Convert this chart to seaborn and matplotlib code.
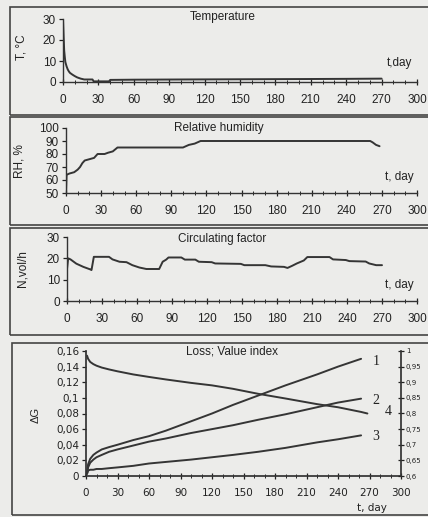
import matplotlib
matplotlib.use("Agg")
import matplotlib.pyplot as plt
import matplotlib.ticker as mticker
from matplotlib.patches import Rectangle
import pandas as pd
import seaborn as sns

# temperature
t_temp = [0, 0.5, 1, 1.5, 2, 3, 4, 5, 6, 8, 10, 12, 15, 18, 25, 26, 39, 40, 60, 100, 150, 200, 240, 270]
temp = [30, 22, 15, 12, 9.5, 7.5, 6, 5, 4.3, 3.5, 2.8, 2.2, 1.6, 1.2, 1.2, 0.3, 0.3, 1.0, 1.1, 1.2, 1.3, 1.4, 1.5, 1.6]

# relative humidity
t_rh = [0, 0.5, 3, 7, 10, 12, 14, 16, 20, 24, 27, 33, 36, 40, 44, 100, 105, 110, 115, 260, 262, 265, 268]
rh = [50, 64, 65, 66, 68, 70, 73, 75, 76, 77, 80, 80, 81, 82, 85, 85, 87, 88, 90, 90, 89, 87, 86]

# circulating factor
t_n = [0, 1, 3, 8, 14, 20, 21, 23, 36, 39, 45, 51, 56, 62, 68, 79, 82, 85, 87, 98,
       101, 110, 113, 124, 127, 149, 152, 170, 175, 186, 189, 193, 197, 203, 206, 225,
       228, 239, 242, 256, 259, 265, 270]
n_circ = [15, 20, 19.5, 17.5, 16, 14.8, 14.5, 20.7, 20.7, 19.5, 18.4, 18.2, 16.8, 15.7, 15, 15,
          18.4, 19.4, 20.4, 20.4, 19.4, 19.4, 18.4, 18.2, 17.6, 17.4, 16.8, 16.8, 16.2, 16,
          15.5, 16.5, 17.6, 19, 20.6, 20.6, 19.5, 19.2, 18.7, 18.5, 17.6, 16.8, 16.8]

# loss curves 1-3 (left axis) and value index 4 (right axis)
t_loss = [1, 2, 4, 7, 10, 15, 22, 30, 45, 60, 76, 100, 120, 140, 164, 190, 220, 240, 262]
loss1 = [0.003, 0.015, 0.022, 0.027, 0.030, 0.034, 0.037, 0.040, 0.046, 0.051, 0.058, 0.070,
         0.080, 0.091, 0.103, 0.116, 0.130, 0.140, 0.150]
loss2 = [0.003, 0.011, 0.017, 0.021, 0.024, 0.027, 0.031, 0.034, 0.039, 0.044, 0.048, 0.055,
         0.060, 0.065, 0.072, 0.079, 0.088, 0.094, 0.099]
loss3 = [0.003, 0.007, 0.008, 0.008, 0.009, 0.009, 0.010, 0.011, 0.013, 0.016, 0.018, 0.021,
         0.024, 0.027, 0.031, 0.036, 0.043, 0.047, 0.052]
t_vi = [1, 2, 4, 7, 10, 15, 22, 30, 45, 60, 76, 100, 120, 140, 164, 190, 220, 240, 262, 268]
value_idx = [0.985, 0.975, 0.965, 0.958, 0.953, 0.947, 0.941, 0.935, 0.925, 0.917, 0.909, 0.898,
             0.89, 0.879, 0.863, 0.848, 0.83, 0.82, 0.805, 0.80]

W, H = 428, 517
LC = "#353535"
BG = "#ececea"

sns.set_theme(style="ticks")
plt.rcParams["font.family"] = ["Liberation Sans", "DejaVu Sans"]

fig = plt.figure(figsize=(W / 100, H / 100), dpi=100, facecolor=BG)


def ax_px(x0, x1, ytop, ybot):
    # axes rectangle from pixel coords
    return fig.add_axes([x0 / W, 1 - ybot / H, (x1 - x0) / W, (ybot - ytop) / H])


def box(y0, y1, x0=10):
    fig.patches.append(Rectangle((x0 / W, 1 - y1 / H), (W + 5 - x0) / W, (y1 - y0) / H,
                                 transform=fig.transFigure, fill=False, lw=1.2,
                                 edgecolor="#444444"))


def style_top(ax, ylim, yticks, title, tx, ty, dlab, dy, ylabel, ylx, lly):
    ax.set_facecolor("none")
    ax.set_xlim(0, 300)
    ax.set_ylim(*ylim)
    ax.set_xticks(range(0, 301, 30))
    ax.xaxis.set_minor_locator(mticker.MultipleLocator(10))
    ax.set_yticks(yticks)
    ax.tick_params(axis="x", direction="inout", length=5, width=0.9, labelsize=8.5, pad=6, colors="#222")
    ax.tick_params(axis="x", which="minor", direction="inout", length=3, width=0.7)
    ax.tick_params(axis="y", direction="out", length=3, width=0.9, labelsize=8.5, pad=2, colors="#222")
    for s in ["left", "bottom"]:
        ax.spines[s].set_linewidth(1.0)
        ax.spines[s].set_color("#333")
    sns.despine(ax=ax)
    ax.set_xlabel("")
    ax.set_ylabel("")
    ax.text(tx, ty, title, transform=ax.transAxes, ha="center", va="center", fontsize=8.5, color="#222")
    ax.text(0.95, dy, dlab, transform=ax.transAxes, ha="center", va="center", fontsize=8.5, color="#222")
    fig.text(ylx / W, 1 - lly / H, ylabel, rotation=90, ha="center", va="center", fontsize=8.5, color="#222")


# panel frames
box(7, 115)
box(117, 225)
box(228, 335)
box(343, 515, x0=12)

# Temperature
ax1 = ax_px(63, 417, 19, 82)
sns.lineplot(x=t_temp, y=temp, ax=ax1, color=LC, lw=1.4)
style_top(ax1, (0, 30), [0, 10, 20, 30], "Temperature", 0.452, 1.03, "t,day", 0.30, "T, °C", 21, 47)

# Relative humidity
ax2 = ax_px(66, 417, 128, 193)
sns.lineplot(x=t_rh, y=rh, ax=ax2, color=LC, lw=1.4)
style_top(ax2, (50, 100), list(range(50, 101, 10)), "Relative humidity", 0.436, 1.0, "t, day", 0.25, "RH, %", 20, 161)

# Circulating factor
ax3 = ax_px(67, 417, 237, 301)
sns.lineplot(x=t_n, y=n_circ, ax=ax3, color=LC, lw=1.4)
style_top(ax3, (0, 30), [0, 10, 20, 30], "Circulating factor", 0.443, 0.97, "t, day", 0.25, "N,vol/h", 22, 269)

# Loss; Value index
ax4 = ax_px(86, 401, 351, 476)
ax4.set_facecolor("none")
df_loss = pd.DataFrame({"t": t_loss * 3,
                        "loss": loss1 + loss2 + loss3,
                        "curve": ["1"] * len(t_loss) + ["2"] * len(t_loss) + ["3"] * len(t_loss)})
sns.lineplot(data=df_loss, x="t", y="loss", hue="curve", palette=[LC, LC, LC], ax=ax4,
             lw=1.4, legend=False)
ax4.set_xlim(0, 300)
ax4.set_ylim(0, 0.16)
ax4.set_xticks(range(0, 301, 30))
ax4.xaxis.set_minor_locator(mticker.MultipleLocator(10))
ax4.set_yticks([0, 0.02, 0.04, 0.06, 0.08, 0.1, 0.12, 0.14, 0.16])
comma = mticker.FuncFormatter(lambda v, p: f"{v:g}".replace(".", ","))
ax4.yaxis.set_major_formatter(comma)
ax4.tick_params(axis="x", direction="inout", length=5, width=0.9, pad=6, colors="#222")
ax4.tick_params(axis="x", which="minor", direction="inout", length=3, width=0.7)
ax4.tick_params(axis="y", direction="out", length=3, width=0.9, pad=2, colors="#222")
for lab in ax4.get_xticklabels() + ax4.get_yticklabels():
    lab.set_family("DejaVu Sans")
    lab.set_fontsize(7.5)
ax4.set_xlabel("")
ax4.set_ylabel("")
ax4.spines["top"].set_visible(False)
ax4.spines["right"].set_visible(False)
for s in ["left", "bottom"]:
    ax4.spines[s].set_color("#333")

ax5 = ax4.twinx()
sns.lineplot(x=t_vi, y=value_idx, ax=ax5, color=LC, lw=1.4)
ax5.set_ylim(0.6, 1.0)
ax5.set_yticks([0.6, 0.65, 0.7, 0.75, 0.8, 0.85, 0.9, 0.95, 1.0])
ax5.yaxis.set_major_formatter(comma)
ax5.tick_params(axis="y", direction="inout", length=5, width=0.9, pad=1, colors="#222")
for lab in ax5.get_yticklabels():
    lab.set_family("DejaVu Sans")
    lab.set_fontsize(5)
ax5.set_ylabel("")
ax5.spines["top"].set_visible(False)
ax5.spines["left"].set_visible(False)
ax5.spines["bottom"].set_visible(False)
ax5.spines["right"].set_color("#333")

ax4.text(0.462, 1.0, "Loss; Value index", transform=ax4.transAxes, ha="center", va="center",
         fontsize=8.5, color="#222")
ax4.text(0.908, -0.256, "t, day", transform=ax4.transAxes, ha="center", va="center",
         fontsize=7.5, family="DejaVu Sans", color="#222")
for lab, tx, ty in [("1", 276, 0.146), ("2", 276, 0.097), ("3", 276, 0.05), ("4", 288, 0.082)]:
    ax4.text(tx, ty, lab, ha="center", va="center", fontsize=10, family="Liberation Serif", color="#222")
fig.text(36 / W, 1 - 415 / H, "ΔG", rotation=90, ha="center", va="center", fontsize=8, color="#222")

fig.savefig("out.png", dpi=100, facecolor=BG)
